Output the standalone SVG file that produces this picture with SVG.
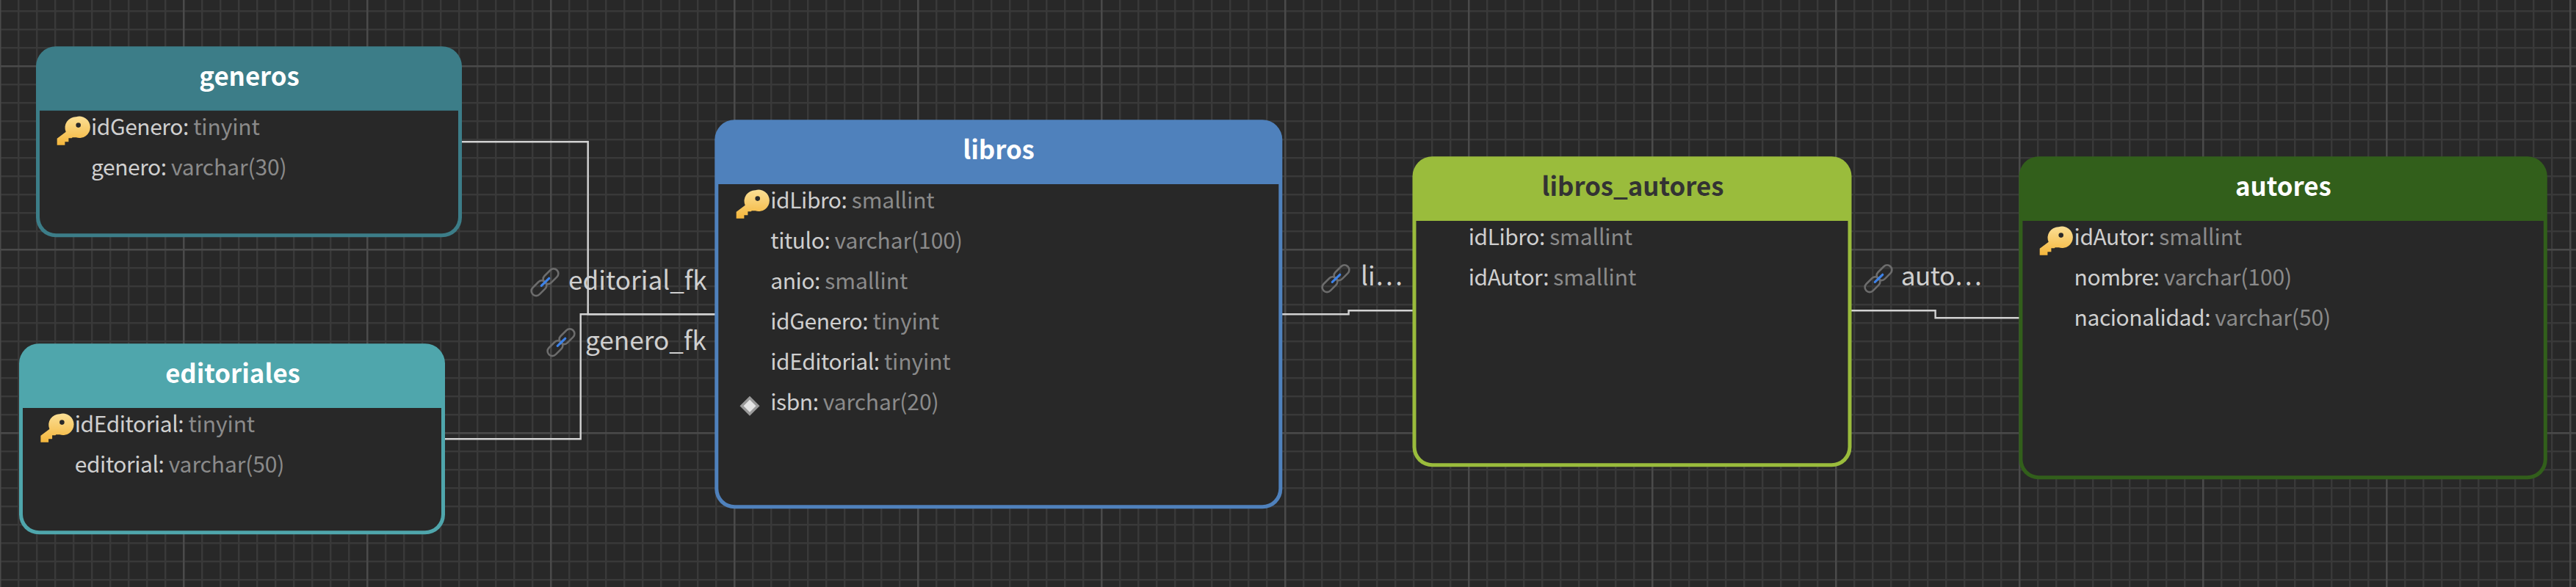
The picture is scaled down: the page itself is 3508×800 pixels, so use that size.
<svg xmlns="http://www.w3.org/2000/svg" width="3508" height="800" viewBox="0 0 3508 800">
<style>
text{font-family:"Noto Sans CJK SC","Noto Sans",sans-serif}
.title{font-size:34.800px;font-weight:700;fill:#fff;text-anchor:middle}
.dark{fill:#333}
.f{font-size:30px;letter-spacing:-0.450px;fill:#cfcfcf}
.f tspan{fill:#8a8a8a;letter-spacing:-0.100px}
.lab{font-size:35.200px;fill:#cfcfcf}
.body{fill:#282828}
.conn{fill:none;stroke:#d2d2d2;stroke-width:2.400}
</style>
<defs>
<pattern id="minor" patternUnits="userSpaceOnUse" x="-1" y="14" width="25" height="25"><rect width="2.400" height="25" fill="#393939"/><rect width="25" height="2.400" fill="#393939"/></pattern>
<pattern id="major" patternUnits="userSpaceOnUse" x="-1" y="89" width="250" height="250"><rect width="2.400" height="250" fill="#4a4a4a"/><rect width="250" height="2.400" fill="#4a4a4a"/></pattern>
<linearGradient id="gold" x1="0" y1="0" x2="0" y2="1"><stop offset="0" stop-color="#fbdf95"/><stop offset="1" stop-color="#f4b63c"/></linearGradient>
<symbol id="key" width="41" height="39" viewBox="0 0 41 39" overflow="visible"><path fill="url(#gold)" fill-rule="evenodd" d="M26 0A14.700 14.700 0 1 1 26 28H21L20 29H15.700V34H10.700V38.400H0V29.500L12 20.500A14.700 14.700 0 0 1 26 0ZM29 8A3.300 3.300 0 1 0 29 14.600A3.300 3.300 0 1 0 29 8Z"/></symbol>
<symbol id="link" width="37" height="37" viewBox="0 0 37 37" overflow="visible"><g fill="none" stroke="#6c6c6c" stroke-width="2.600"><rect x="-12" y="-6.500" width="24" height="13" rx="6.500" transform="translate(10 26.700) rotate(-45)"/><rect x="-12" y="-6.500" width="24" height="13" rx="6.500" transform="translate(26 10.700) rotate(-45)"/></g><path d="M13.300 23.300 23.700 13.300" stroke="#3d82e8" stroke-width="3.200" stroke-linecap="round"/></symbol>
</defs>
<rect width="3508" height="800" fill="#282828"/>
<rect width="3508" height="800" fill="url(#minor)"/>
<rect width="3508" height="800" fill="url(#major)"/>

<g id="connectors">
<path class="conn" d="M626 193.300H800.700V428.300H976"/>
<path class="conn" d="M603 598.300H790.700V428.300H976"/>
<path class="conn" d="M1744 428.300H1836.600V423.300H1926"/>
<path class="conn" d="M2519 423.300H2635.600V433.300H2751"/>
<g id="label-editorial_fk"><use href="#link" x="724" y="366"/><text class="lab" x="774" y="395">editorial_fk</text></g>
<g id="label-genero_fk"><use href="#link" x="746" y="448"/><text class="lab" x="797" y="477.300">genero_fk</text></g>
<g id="label-libros"><use href="#link" x="1801" y="361"/><text class="lab" x="1853" y="389.300">li⋯</text></g>
<g id="label-autores"><use href="#link" x="2540" y="361"/><text class="lab" x="2588.700" y="389.300" letter-spacing="-0.500">auto⋯</text></g>
</g>

<g id="generos">
<rect x="49" y="63.300" width="580" height="260" rx="27" fill="#3c7d88"/>
<path class="body" d="M54 150.700H624V296A22.300 22.300 0 0 1 601.700 318.300H76.300A22.300 22.300 0 0 1 54 296Z"/>
<text class="title" x="339.500" y="117.300">generos</text>
<use href="#key" x="77.700" y="159.300"/>
<text class="f" x="124" y="184">idGenero: <tspan>tinyint</tspan></text>
<text class="f" x="124" y="239">genero: <tspan>varchar(30)</tspan></text>
</g>

<g id="editoriales">
<rect x="26" y="468.300" width="580" height="260" rx="27" fill="#4fa6ac"/>
<path class="body" d="M31 556H601V701A22.300 22.300 0 0 1 578.700 723.300H53.300A22.300 22.300 0 0 1 31 701Z"/>
<text class="title" x="317" y="522.300">editoriales</text>
<use href="#key" x="55.400" y="564.300"/>
<text class="f" x="101.800" y="589">idEditorial: <tspan>tinyint</tspan></text>
<text class="f" x="101.800" y="644">editorial: <tspan>varchar(50)</tspan></text>
</g>

<g id="libros">
<rect x="973.300" y="163.300" width="773" height="530" rx="27" fill="#4f81bc"/>
<path class="body" d="M978.300 251H1741.300V666A22.300 22.300 0 0 1 1719 688.300H1000.600A22.300 22.300 0 0 1 978.300 666Z"/>
<text class="title" x="1360" y="217.300">libros</text>
<use href="#key" x="1002.700" y="259.300"/>
<text class="f" x="1049.300" y="284">idLibro: <tspan>smallint</tspan></text>
<text class="f" x="1049.300" y="339">titulo: <tspan>varchar(100)</tspan></text>
<text class="f" x="1049.300" y="394">anio: <tspan>smallint</tspan></text>
<text class="f" x="1049.300" y="449">idGenero: <tspan>tinyint</tspan></text>
<text class="f" x="1049.300" y="504">idEditorial: <tspan>tinyint</tspan></text>
<path d="M1021 539.800 1034.500 553.300 1021 566.800 1007.500 553.300Z" fill="#9a9a9a"/>
<path d="M1021 544.800 1029.500 553.300 1021 561.800 1012.500 553.300Z" fill="#e4e4e4"/>
<text class="f" x="1049.300" y="559">isbn: <tspan>varchar(20)</tspan></text>
</g>

<g id="libros_autores">
<rect x="1923.500" y="213.300" width="598" height="423" rx="27" fill="#9abc3c"/>
<path class="body" d="M1928.500 301H2516.500V609A22.300 22.300 0 0 1 2494.200 631.300H1950.800A22.300 22.300 0 0 1 1928.500 609Z"/>
<text class="title dark" x="2223.500" y="267.300">libros_autores</text>
<text class="f" x="1999.700" y="334">idLibro: <tspan>smallint</tspan></text>
<text class="f" x="1999.700" y="389">idAutor: <tspan>smallint</tspan></text>
</g>

<g id="autores">
<rect x="2749.400" y="213.300" width="719.400" height="440" rx="27" fill="#325f1b"/>
<path class="body" d="M2754.400 301H3463.800V626A22.300 22.300 0 0 1 3441.500 648.300H2776.700A22.300 22.300 0 0 1 2754.400 626Z"/>
<text class="title" x="3109.400" y="267.300">autores</text>
<use href="#key" x="2777.700" y="309.300"/>
<text class="f" x="2824.600" y="334">idAutor: <tspan>smallint</tspan></text>
<text class="f" x="2824.600" y="389">nombre: <tspan>varchar(100)</tspan></text>
<text class="f" x="2824.600" y="444">nacionalidad: <tspan>varchar(50)</tspan></text>
</g>
</svg>
